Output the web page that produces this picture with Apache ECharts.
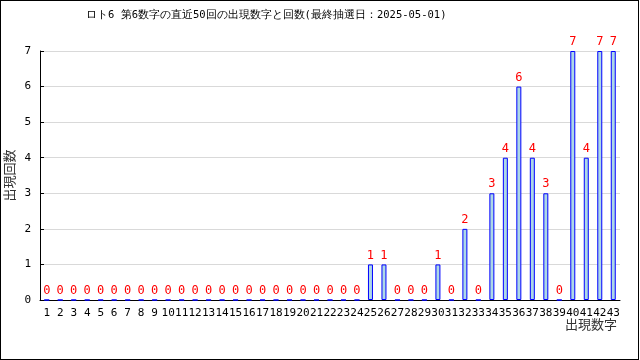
<!DOCTYPE html>
<html>
<head>
<meta charset="utf-8">
<script src="https://cdn.jsdelivr.net/npm/echarts@6/dist/echarts.min.js"></script>
<style>
html,body{margin:0;padding:0;background:#fff;}
#chart{width:640px;height:360px;position:absolute;left:0;top:0;}
#frame{position:absolute;left:0;top:0;width:639px;height:360px;box-sizing:border-box;border:1px solid #000;pointer-events:none;}
</style>
</head>
<body>
<div id="chart"></div>
<div id="frame"></div>
<script>
var titleText = 'ロト6 第6数字の直近50回の出現数字と回数(最終抽選日：2025-05-01)';
var categories = ['1','2','3','4','5','6','7','8','9','10','11','12','13','14','15','16','17','18','19','20','21','22','23','24','25','26','27','28','29','30','31','32','33','34','35','36','37','38','39','40','41','42','43'];
var counts = [0,0,0,0,0,0,0,0,0,0,0,0,0,0,0,0,0,0,0,0,0,0,0,0,1,1,0,0,0,1,0,2,0,3,4,6,4,3,0,7,4,7,7];
var yTicks = [0,1,2,3,4,5,6,7];
var xName = '出現数字';
var yName = '出現回数';

var mono = '"DejaVu Sans Mono", monospace';
var chart = echarts.init(document.getElementById('chart'), null, {renderer:'canvas'});
chart.setOption({
  animation:false,
  backgroundColor:'#fff',
  title:{
    text:titleText, left:81, top:5,
    textStyle:{fontSize:10.5, fontWeight:'normal', color:'#000', fontFamily:mono}
  },
  grid:{left:40, right:20, top:51, bottom:60, containLabel:false, outerBoundsMode:'none'},
  xAxis:{
    type:'category', data:categories,
    name:xName, nameLocation:'end', nameGap:0, nameMoveOverlap:false,
    nameTextStyle:{align:'right', verticalAlign:'top', padding:[18,3,0,0], fontSize:13, color:'#333', fontFamily:'"Noto Sans CJK JP", sans-serif'},
    axisLine:{lineStyle:{color:'#000', width:1}},
    axisTick:{inside:true, length:4, lineStyle:{color:'#000'}},
    axisLabel:{interval:0, fontSize:11, color:'#000', fontFamily:mono, margin:8}
  },
  yAxis:{
    type:'value', min:0, max:yTicks[yTicks.length-1], interval:1,
    name:yName, nameLocation:'middle', nameGap:24, nameMoveOverlap:false,
    nameTextStyle:{fontSize:13, color:'#333', fontFamily:'"Noto Sans CJK JP", sans-serif'},
    axisLine:{show:true, lineStyle:{color:'#000', width:1}},
    axisTick:{show:true, inside:true, length:4, lineStyle:{color:'#000'}},
    axisLabel:{fontSize:11, color:'#000', fontFamily:mono, margin:9},
    splitLine:{lineStyle:{color:'#d9d9d9', width:1}}
  },
  series:[{
    type:'bar', data:counts, barWidth:5,
    itemStyle:{color:'#add8e6', borderColor:'#0000ff', borderWidth:1},
    label:{show:true, position:'top', distance:3, color:'#ff0000', fontSize:12, fontFamily:mono}
  }]
});
</script>
</body>
</html>
